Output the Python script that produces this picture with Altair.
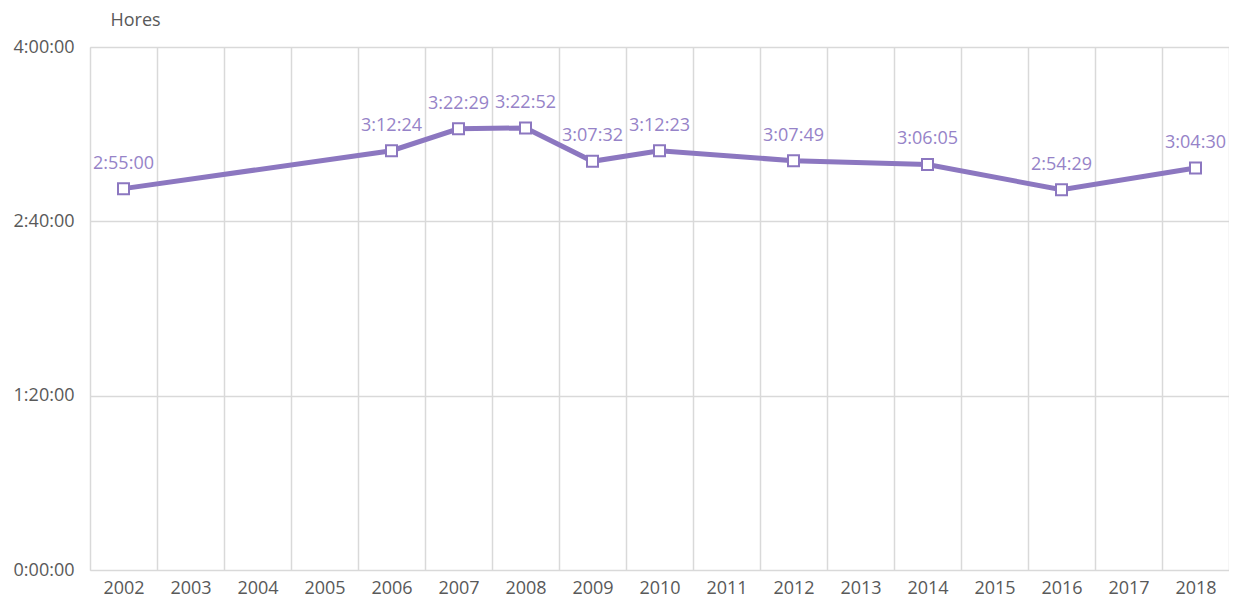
import altair as alt
import pandas as pd

all_years = [str(y) for y in range(2002, 2019)]
years = ["2002", "2006", "2007", "2008", "2009", "2010", "2012", "2014", "2016", "2018"]
labels = ["2:55:00", "3:12:24", "3:22:29", "3:22:52", "3:07:32", "3:12:23",
          "3:07:49", "3:06:05", "2:54:29", "3:04:30"]
y_ticks = [0, 80, 160, 240]  # minutes


def to_minutes(s):
    h, m, sec = (int(p) for p in s.split(":"))
    return h * 60 + m + sec / 60


df = pd.DataFrame({"year": years, "label": labels,
                   "minutes": [to_minutes(s) for s in labels]})

LINE = "#8c77c0"
LABEL = "#9683c8"
GRID = "#d9d9d9"
TEXT = "#595959"
FONT = "Open Sans"
FS = 18

x = alt.X("year:O", scale=alt.Scale(domain=all_years, paddingInner=0, paddingOuter=0),
          axis=alt.Axis(title=None, tickBand="extent", grid=True, gridColor=GRID,
                        gridWidth=1.5, domain=False, ticks=False, labelAngle=0,
                        labelFont=FONT, labelFontSize=FS, labelColor=TEXT,
                        labelPadding=9))
y = alt.Y("minutes:Q", scale=alt.Scale(domain=[0, 240], nice=False, zero=True),
          axis=alt.Axis(title="Hores", titleAngle=0, titleX=20, titleY=-27,
                        titleAlign="left", titleBaseline="middle",
                        titleFont=FONT, titleFontSize=FS, titleFontWeight="normal",
                        titleColor=TEXT, values=y_ticks, grid=True,
                        gridColor=GRID, gridWidth=1.5, domain=False, ticks=False,
                        labelFont=FONT, labelFontSize=FS, labelColor=TEXT,
                        labelPadding=16,
                        labelExpr="floor(datum.value/60) + ':' + (datum.value%60 < 10 ? '0' : '') + (datum.value%60) + ':00'"))

base = alt.Chart(df).encode(x=x, y=y)

line = base.mark_line(color=LINE, strokeWidth=5)
pts = base.mark_point(shape="square", size=121, filled=True, fill="white",
                      stroke=LINE, strokeWidth=2, opacity=1)
txt = base.mark_text(dy=-25, baseline="middle", align="center", font=FONT,
                     fontSize=FS, color=LABEL).encode(text="label:N")

chart = (line + pts + txt).properties(
    width=1139, height=523,
    autosize=alt.AutoSizeParams(type="none"),
    padding={"left": 82, "top": 39, "right": 0, "bottom": 30},
).configure_view(stroke=None).configure(background="white")

chart.save("out.html", embed_options={"renderer": "svg", "actions": False})
